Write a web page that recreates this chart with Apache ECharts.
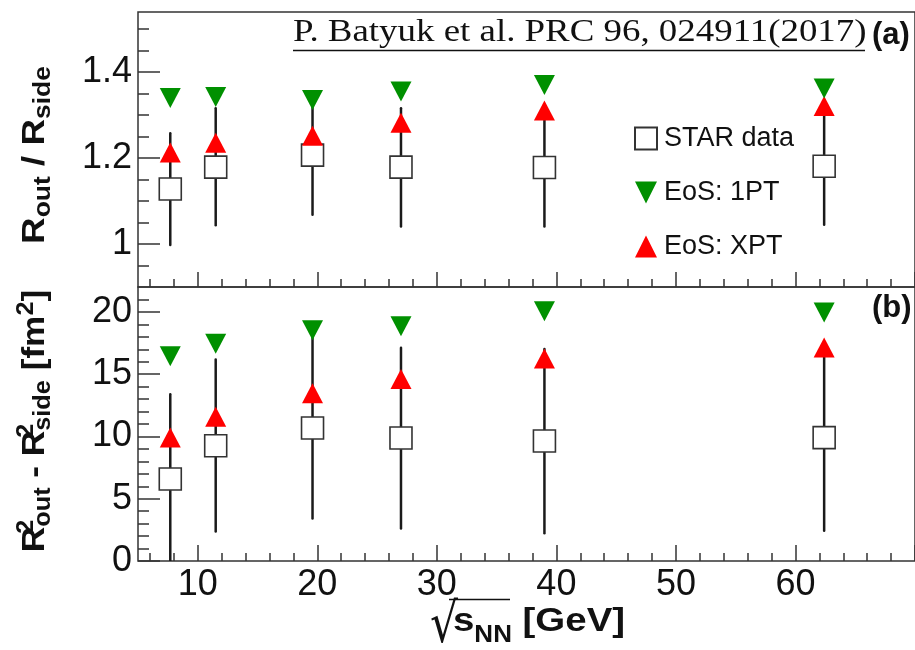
<!DOCTYPE html>
<html>
<head>
<meta charset="utf-8">
<script src="https://cdn.jsdelivr.net/npm/echarts@6/dist/echarts.min.js"></script>
<style>
html, body { margin: 0; padding: 0; background: #fff; }
#chart { width: 915px; height: 650px; }
</style>
</head>
<body>
<div id="chart"></div>
<script>
// Beam energies sqrt(s_NN) in GeV
const energies = [7.7, 11.5, 19.6, 27, 39, 62.4];

// Panel (a): R_out / R_side
const ratioStar   = [1.128, 1.179, 1.207, 1.179, 1.178, 1.181];
const ratioStarLo = [0.998, 1.044, 1.068, 1.041, 1.041, 1.045];
const ratioStarHi = [1.258, 1.316, 1.346, 1.316, 1.315, 1.317];
const ratio1PT    = [1.340, 1.342, 1.335, 1.355, 1.370, 1.362];
const ratioXPT    = [1.213, 1.236, 1.252, 1.282, 1.311, 1.321];

// Panel (b): R_out^2 - R_side^2 in fm^2
const diffStar   = [6.58, 9.25, 10.68, 9.87, 9.63, 9.91];
const diffStarLo = [0.0, 2.37, 3.42, 2.61, 2.23, 2.42];
const diffStarHi = [13.38, 16.18, 17.94, 17.12, 17.03, 17.40];
const diff1PT    = [16.44, 17.45, 18.52, 18.85, 20.05, 19.95];
const diffXPT    = [9.91, 11.58, 13.46, 14.62, 16.26, 17.15];

// Tick values
const energyTicks = [10, 20, 30, 40, 50, 60];
const energyMinor = [6, 8, 12, 14, 16, 18, 22, 24, 26, 28, 32, 34, 36, 38,
                     42, 44, 46, 48, 52, 54, 56, 58, 62, 64, 66, 68];
const ratioTicks = [1, 1.2, 1.4];
const ratioMinor = [0.95, 1.05, 1.1, 1.15, 1.25, 1.3, 1.35, 1.45, 1.5];
const diffTicks = [0, 5, 10, 15, 20];
const diffMinor = [1, 2, 3, 4, 6, 7, 8, 9, 11, 12, 13, 14, 16, 17, 18, 19, 21];

const legendNames = ['STAR data', 'EoS: 1PT', 'EoS: XPT'];

const INK = '#111';
const FRAME = '#333';
const GREEN = '#009000';
const RED = '#ff0000';
const SANS = '"Liberation Sans", Arial, Helvetica, sans-serif';
const SERIF = '"Liberation Serif", "Times New Roman", serif';
// downward-pointing triangle marker
const TRIANGLE_DOWN = 'path://M0,0L2,0L1,2Z';

function axis(dim, gridIndex, min, max, tickValues, tickLen, labelValues, extra) {
  return {
    type: 'value',
    gridIndex: gridIndex,
    min: min,
    max: max,
    position: dim === 'x' ? 'bottom' : 'left',
    axisLine: { show: false },
    splitLine: { show: false },
    axisTick: {
      show: true, inside: true, length: tickLen, customValues: tickValues,
      lineStyle: { color: FRAME, width: 1.5 }
    },
    axisLabel: labelValues ? Object.assign({
      show: true, customValues: labelValues,
      color: INK, fontFamily: SANS, fontSize: 36, margin: 6
    }, extra || {}) : { show: false }
  };
}

function pairs(xs, ys) { return xs.map((x, i) => [x, ys[i]]); }
function triples(xs, lo, hi) { return xs.map((x, i) => [x, lo[i], hi[i]]); }

function errorBars(xi, yi, data) {
  return {
    type: 'custom',
    xAxisIndex: xi, yAxisIndex: yi,
    clip: true,
    z: 1,
    silent: true,
    encode: { x: 0, y: [1, 2] },
    data: data,
    renderItem: function (params, api) {
      const p1 = api.coord([api.value(0), api.value(1)]);
      const p2 = api.coord([api.value(0), api.value(2)]);
      return {
        type: 'line',
        shape: { x1: p1[0], y1: p1[1], x2: p2[0], y2: p2[1] },
        style: { stroke: '#1a1a1a', lineWidth: 2.5, lineCap: 'round' }
      };
    }
  };
}

function starSeries(xi, yi, data) {
  return {
    name: legendNames[0], type: 'scatter', xAxisIndex: xi, yAxisIndex: yi,
    symbol: 'rect', symbolSize: 22, z: 3,
    itemStyle: { color: '#fff', borderColor: FRAME, borderWidth: 1.6, opacity: 1 },
    data: data
  };
}
function xptSeries(xi, yi, data) {
  return {
    name: legendNames[2], type: 'scatter', xAxisIndex: xi, yAxisIndex: yi,
    symbol: 'triangle', symbolSize: [21, 20], z: 3,
    itemStyle: { color: RED, opacity: 1 },
    data: data
  };
}
function onePTSeries(xi, yi, data) {
  return {
    name: legendNames[1], type: 'scatter', xAxisIndex: xi, yAxisIndex: yi,
    symbol: TRIANGLE_DOWN, symbolSize: [21, 20], z: 4,
    itemStyle: { color: GREEN, opacity: 1 },
    data: data
  };
}

const chart = echarts.init(document.getElementById('chart'), null, { renderer: 'canvas' });

const option = {
  backgroundColor: '#fff',
  animation: false,
  grid: [
    { left: 138, right: -14, top: 12, height: 275, show: true,
      borderColor: FRAME, borderWidth: 1.5, backgroundColor: 'transparent' },
    { left: 138, right: -14, top: 287, height: 274, show: true,
      borderColor: FRAME, borderWidth: 1.5, backgroundColor: 'transparent' }
  ],
  xAxis: [
    axis('x', 0, 5, 70, energyTicks.concat([70]), 15, null),
    axis('x', 0, 5, 70, energyMinor, 8, null),
    axis('x', 1, 5, 70, energyTicks.concat([70]), 16, energyTicks),
    axis('x', 1, 5, 70, energyMinor, 8, null)
  ],
  yAxis: [
    axis('y', 0, 0.9, 1.54, ratioTicks, 22, ratioTicks,
      { formatter: v => (v === 1 ? '1' : v.toFixed(1)) }),
    axis('y', 0, 0.9, 1.54, ratioMinor, 11, null),
    axis('y', 1, 0, 22, diffTicks, 22, diffTicks),
    axis('y', 1, 0, 22, diffMinor, 11, null)
  ],
  legend: {
    data: legendNames,
    orient: 'vertical',
    left: 629,
    top: 120,
    itemWidth: 22,
    itemHeight: 22,
    itemGap: 27,
    selectedMode: false,
    textStyle: { color: INK, fontFamily: SANS, fontSize: 27, padding: [0, 0, 0, 2] }
  },
  series: [
    errorBars(0, 0, triples(energies, ratioStarLo, ratioStarHi)),
    starSeries(0, 0, pairs(energies, ratioStar)),
    xptSeries(0, 0, pairs(energies, ratioXPT)),
    onePTSeries(0, 0, pairs(energies, ratio1PT)),
    errorBars(2, 2, triples(energies, diffStarLo, diffStarHi)),
    starSeries(2, 2, pairs(energies, diffStar)),
    xptSeries(2, 2, pairs(energies, diffXPT)),
    onePTSeries(2, 2, pairs(energies, diff1PT))
  ],
  graphic: [
    // reference line
    {
      type: 'text', x: 293, y: 32.5, scaleX: 1.19, z: 10,
      style: {
        text: 'P. Batyuk et al. PRC 96, 024911(2017)',
        fontFamily: SERIF, fontSize: 31, fill: INK,
        align: 'left', verticalAlign: 'middle'
      }
    },
    {
      type: 'line', z: 10,
      shape: { x1: 293, y1: 50.5, x2: 865, y2: 50.5 },
      style: { stroke: INK, lineWidth: 1.5 }
    },
    // panel tags
    {
      type: 'text', x: 872, y: 35, z: 10,
      style: { text: '(a)', fontFamily: SANS, fontWeight: 'bold', fontSize: 31,
               fill: INK, align: 'left', verticalAlign: 'middle' }
    },
    {
      type: 'text', x: 872, y: 308, z: 10,
      style: { text: '(b)', fontFamily: SANS, fontWeight: 'bold', fontSize: 31,
               fill: INK, align: 'left', verticalAlign: 'middle' }
    },
    // y title, panel (a)
    {
      type: 'text', x: 35.5, y: 155, rotation: Math.PI / 2, scaleX: 1.15, z: 10,
      style: {
        text: '{b|R}{s|out}{b| / R}{s|side}',
        align: 'center', verticalAlign: 'middle', fill: INK,
        rich: {
          b: { fontFamily: SANS, fontWeight: 'bold', fontSize: 32, lineHeight: 40,
               verticalAlign: 'middle', fill: INK },
          s: { fontFamily: SANS, fontWeight: 'bold', fontSize: 23, lineHeight: 18,
               verticalAlign: 'bottom', fill: INK }
        }
      }
    },
    // y title, panel (b)
    {
      type: 'text', x: 35.5, y: 421, rotation: Math.PI / 2, scaleX: 1.1, z: 10,
      style: {
        text: '{b|R}{p|2}{s|out}{b| - R}{p|2}{s|side}{b| [fm}{q|2}{b|]}',
        align: 'center', verticalAlign: 'middle', fill: INK,
        rich: {
          b: { fontFamily: SANS, fontWeight: 'bold', fontSize: 32, lineHeight: 40,
               verticalAlign: 'middle', fill: INK },
          p: { fontFamily: SANS, fontWeight: 'bold', fontSize: 23, lineHeight: 22,
               verticalAlign: 'top', width: 0, fill: INK },
          q: { fontFamily: SANS, fontWeight: 'bold', fontSize: 23, lineHeight: 22,
               verticalAlign: 'top', fill: INK },
          s: { fontFamily: SANS, fontWeight: 'bold', fontSize: 23, lineHeight: 18,
               verticalAlign: 'bottom', fill: INK }
        }
      }
    },
    // x title: radical sign, then the rest
    {
      type: 'text', x: 430, y: 628, scaleY: 1.25, z: 10,
      style: {
        text: '√', fontFamily: '"DejaVu Sans", sans-serif', fontSize: 44,
        fill: INK, align: 'left', verticalAlign: 'middle'
      }
    },
    {
      type: 'text', x: 453, y: 622, scaleX: 1.13, z: 10,
      style: {
        text: '{b|s}{n|NN}{b| [GeV]}',
        align: 'left', verticalAlign: 'middle', fill: INK,
        rich: {
          b: { fontFamily: SANS, fontWeight: 'bold', fontSize: 34, lineHeight: 50,
               verticalAlign: 'middle', fill: INK },
          n: { fontFamily: SANS, fontWeight: 'bold', fontSize: 23, lineHeight: 36,
               verticalAlign: 'bottom', fill: INK }
        }
      }
    },
    {
      type: 'line', z: 10,
      shape: { x1: 449, y1: 599.5, x2: 510, y2: 599.5 },
      style: { stroke: INK, lineWidth: 1.3 }
    }
  ]
};

chart.setOption(option);
</script>
</body>
</html>
